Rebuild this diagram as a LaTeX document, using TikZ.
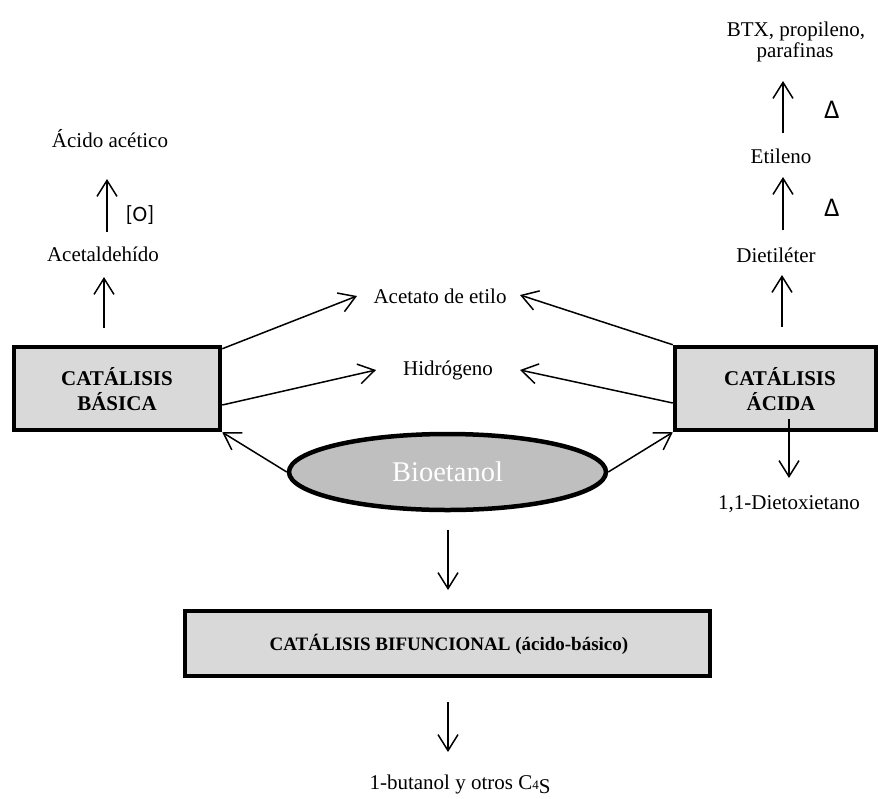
\documentclass[tikz,border=0pt]{standalone}
\usepackage{fontspec}
\setmainfont{Liberation Serif}
\newfontfamily\calib{Carlito}
\usetikzlibrary{arrows.meta,shapes.geometric}
\definecolor{boxgray}{HTML}{D9D9D9}
\definecolor{ellgray}{HTML}{BFBFBF}
\begin{document}
\begin{tikzpicture}[x=1pt,y=-1pt,
  txt/.style={inner sep=0pt, anchor=base, font=\fontsize{21}{25}\selectfont},
  btxt/.style={inner sep=0pt, anchor=base, font=\bfseries\fontsize{21}{25}\selectfont},
  sym/.style={inner sep=0pt, font=\calib\fontsize{22}{26}\selectfont},
  boxst/.style={draw, line width=4.5pt, fill=boxgray, rectangle, inner sep=0pt},
  arr/.style={line width=1.5pt, -{Straight Barb[length=16pt,width=20pt,line width=1.5pt]}}
]
\useasboundingbox (0,0) rectangle (880,798);

% boxes
\node[boxst, minimum width=206pt, minimum height=83pt] (basica) at (117,388.5) {};
\node[boxst, minimum width=201pt, minimum height=83pt] (acida) at (775.5,388.5) {};
\node[boxst, minimum width=525pt, minimum height=65pt] (bif) at (447.5,643.5) {};
\node[ellipse, draw, line width=4.5pt, fill=ellgray, minimum width=317pt, minimum height=76pt,
      inner sep=0pt, text=white, font=\fontsize{28.5}{30}\selectfont] (bio) at (447.5,472) {Bioetanol};

% box texts
\node[btxt] (basT1) at (117,385) {CATÁLISIS};
\node[btxt] (basT2) at (117,410) {BÁSICA};
\node[btxt] (aciT1) at (780,385) {CATÁLISIS};
\node[btxt] (aciT2) at (781,410) {ÁCIDA};
\node[btxt, font=\bfseries\fontsize{19}{23}\selectfont] (bifT) at (449,650) {CATÁLISIS BIFUNCIONAL (ácido-básico)};

% product texts
\node[txt] (acido) at (110,147) {Ácido acético};
\node[sym] (oxi) at (140,215) {[O]};
\node[txt] (acetal) at (103,261) {Acetaldehído};
\node[txt] (btx) at (796,36) {BTX, propileno,};
\node[txt] (paraf) at (795,57) {parafinas};
\node[sym, font=\calib\fontsize{27}{30}\selectfont] (delta1) at (832,110) {Δ};
\node[txt] (etileno) at (781,163) {Etileno};
\node[sym, font=\calib\fontsize{27}{30}\selectfont] (delta2) at (832,208) {Δ};
\node[txt] (dietil) at (776,262) {Dietiléter};
\node[txt] (acetato) at (440,303) {Acetato de etilo};
\node[txt] (hidro) at (448,375) {Hidrógeno};
\node[txt] (dietox) at (789,509) {1,1-Dietoxietano};
\node[txt] (final) at (460,789) {1-butanol y otros C{\fontsize{13}{13}\selectfont 4}\raisebox{-4pt}{S}};

% arrow end coordinates
\coordinate (v1s) at (107,232); \coordinate (v1e) at (107,179);
\coordinate (v2s) at (104,328); \coordinate (v2e) at (104,277);
\coordinate (v3s) at (783,133); \coordinate (v3e) at (783,81);
\coordinate (v4s) at (783,230); \coordinate (v4e) at (783,177);
\coordinate (v5s) at (782,327); \coordinate (v5e) at (782,275);
\coordinate (dAs) at (789,419); \coordinate (dAe) at (789,478);
\coordinate (dBs) at (448,530); \coordinate (dBe) at (448,590);
\coordinate (dCs) at (448,702); \coordinate (dCe) at (448,752);
\coordinate (tipAcL) at (357,296);
\coordinate (tipHiL) at (376,370);
\coordinate (tipAcR) at (520,295);
\coordinate (tipHiR) at (520,370);

% arrows
\draw[arr] (v1s) -- (v1e);
\draw[arr] (v2s) -- (v2e);
\draw[arr] (v3s) -- (v3e);
\draw[arr] (v4s) -- (v4e);
\draw[arr] (v5s) -- (v5e);
\draw[arr] (dAs) -- (dAe);
\draw[arr] (dBs) -- (dBe);
\draw[arr] (dCs) -- (dCe);
\draw[arr] ([yshift=-4pt]basica.north east) -- (tipAcL);
\draw[arr] ([yshift=-16.5pt]basica.east) -- (tipHiL);
\draw[arr] (acida.north west) -- (tipAcR);
\draw[arr] ([yshift=-14.5pt]acida.west) -- (tipHiR);
\draw[arr] (bio.west) -- (basica.south east);
\draw[arr] (bio.east) -- (acida.south west);
\end{tikzpicture}
\end{document}
